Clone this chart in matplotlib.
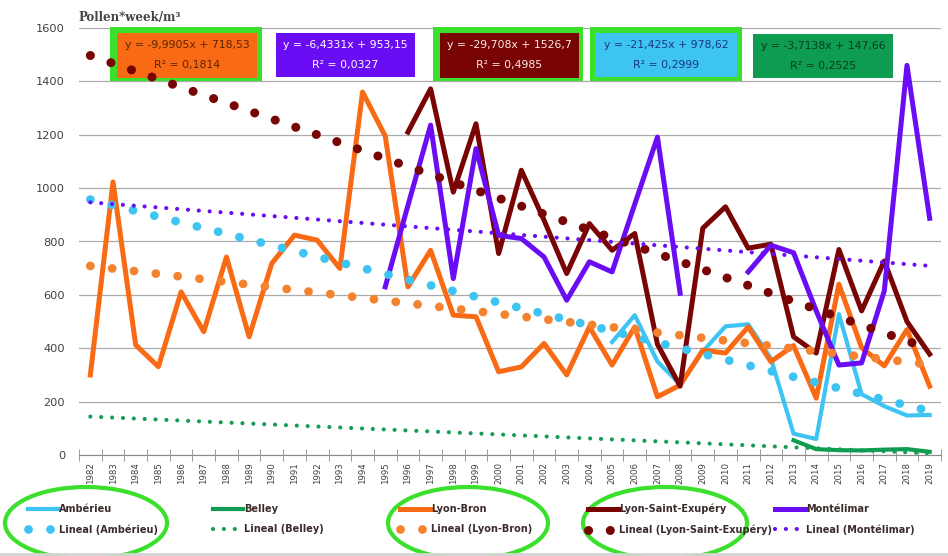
import numpy as np
import matplotlib
matplotlib.use('Agg')
import matplotlib.pyplot as plt
from matplotlib.lines import Line2D
from matplotlib.patches import Ellipse, Rectangle
from matplotlib import font_manager

nan = np.nan

###     Data

years = list(range(1982, 2020))

amberieu = [nan]*23 + [423, 524, 350, 265, 388, 482, 490, 362, 80, 60, 528, 228, 183, 148, 150]
belley = [nan]*31 + [55, 22, 18, 17, 20, 22, 12]
lyon_bron = [300, 1023, 412, 331, 611, 462, 742, 443, 718, 824, 805, 699, 1360, 1195, 630, 767,
             524, 518, 312, 330, 418, 300, 480, 337, 480, 218, 262, 393, 382, 480, 350, 410,
             213, 640, 402, 334, 470, 258]
lyon_se = [nan]*14 + [1210, 1372, 985, 1241, 755, 1067, 880, 680, 867, 767, 830, 415, 258,
                      850, 930, 775, 790, 443, 382, 770, 540, 727, 500, 378]
montelimar = [nan]*13 + [630, 935, 1236, 661, 1148, 823, 811, 742, 580, 724, 686, 940, 1191, 606,
                         nan, nan, 686, 786, 758, 540, 337, 345, 615, 1460, 887]

stations = ['Ambérieu', 'Belley', 'Lyon-Bron', 'Lyon-Saint-Exupéry', 'Montélimar']
series = [amberieu, belley, lyon_bron, lyon_se, montelimar]
colors = ['#3EC4F2', '#0E9C50', '#F96A14', '#780404', '#6A0CF4']

# linear trend lines as printed on the chart (x = 1..38)
slopes = [-21.425, -3.7138, -9.9905, -29.708, -6.4331]
intercepts = [978.62, 147.66, 718.53, 1526.7, 953.15]
r2 = [0.2999, 0.2525, 0.1814, 0.4985, 0.0327]


###     Fonts

names = {f.name for f in font_manager.fontManager.ttflist}
if 'Liberation Sans Narrow' in names:
    NARROW, k = 'Liberation Sans Narrow', 1.0
else:
    NARROW, k = 'DejaVu Sans', 0.78

W, H = 948, 556
def fx(px): return px / W
def fy(py): return 1 - py / H

fig = plt.figure(figsize=(W/100, H/100), dpi=100)
ax = fig.add_axes([fx(79), fy(455), (941-79)/W, (455-28)/H])
ax.patch.set_visible(False)

x = np.arange(len(years))
xi = x + 1

solid_lw = [3.0, 3.0, 3.6, 3.6, 3.6]
trend_style = [(6.3, 2.5), (3.0, 2.6), (6.3, 2.5), (6.5, 2.4), (3.0, 2.6)]
trend_cols = ['#3EC4F2', '#169C55', '#F5822E', '#780404', '#6A0CF4']

solid_handles = []
trend_handles = []
for i in range(5):
    ln, = ax.plot(x, series[i], color=colors[i], lw=solid_lw[i], zorder=3)
    solid_handles.append(ln)
for i in range(5):
    lw, gap = trend_style[i]
    tl, = ax.plot(x, slopes[i]*xi + intercepts[i], color=trend_cols[i], lw=lw,
                  ls=(0, (0.01, gap)), dash_capstyle='round', zorder=4)
    trend_handles.append(tl)

ax.set_xlim(-0.5, 37.5)
ax.set_ylim(0, 1600)
ax.set_yticks(range(0, 1601, 200))
ax.yaxis.grid(True, color='#ABABAB', lw=0.9)
ax.set_axisbelow(True)
for s in ['left', 'right', 'top']:
    ax.spines[s].set_visible(False)
ax.spines['bottom'].set_color('#8C8C8C')

ax.set_xticks(x)
ax.set_xticklabels(years, rotation=90, fontsize=8*k, family=NARROW, color='#404040')
ax.set_xticks(np.arange(-0.5, 38, 1), minor=True)
ax.tick_params(axis='x', which='major', length=0, pad=5)
ax.tick_params(axis='x', which='minor', direction='inout', length=8, color='#8C8C8C')
ax.tick_params(axis='y', length=0, pad=10, labelcolor='#404040')
for t in ax.get_yticklabels():
    t.set_family(NARROW)
    t.set_fontsize(10.5*k)

fig.text(fx(78), fy(18), 'Pollen*week/m³', family='DejaVu Serif', weight='bold',
         fontsize=8.5, color='#454545', va='center', ha='left')

###     Equation boxes

green = '#3BE02C'
boxes = [  # station index, outer box, inner box, text color
    (2, (110, 27, 262, 81), (117, 33, 257, 78), '#5A2500'),
    (4, None, (276, 33, 415, 77), 'white'),
    (3, (433, 27, 583, 81), (440, 33, 579, 78), '#FFE8E8'),
    (0, (590, 27, 742, 81), (595, 33, 737, 77), '#1B3580'),
    (1, None, (753, 34, 893, 78), '#0A3A1E'),
]
for idx, outer, inner, tcol in boxes:
    if outer is not None:
        x0, y0, x1, y1 = outer
        ax.add_patch(Rectangle((fx(x0), fy(y1)), (x1-x0)/W, (y1-y0)/H, fc=green, ec='none',
                               transform=fig.transFigure, clip_on=False, zorder=1))
    x0, y0, x1, y1 = inner
    ax.add_patch(Rectangle((fx(x0), fy(y1)), (x1-x0)/W, (y1-y0)/H, fc=colors[idx], ec='none',
                           transform=fig.transFigure, clip_on=False, zorder=1.1))
    eq = 'y = %sx + %s' % (('%g' % slopes[idx]).replace('.', ','),
                           ('%g' % intercepts[idx]).replace('.', ','))
    rr = 'R² = ' + ('%.4f' % r2[idx]).replace('.', ',')
    cx = fx((x0 + x1) / 2)
    ax.text(cx, fy(y0 + 12), eq, transform=fig.transFigure, ha='center', va='center',
            family=NARROW, fontsize=10*k, color=tcol, zorder=1.2)
    ax.text(cx, fy(y0 + 32), rr, transform=fig.transFigure, ha='center', va='center',
            family=NARROW, fontsize=10*k, color=tcol, zorder=1.2)

###     Legend (one block per station)

leg_x = [28, 213, 400, 588, 775]
for i in range(5):
    fig.legend(handles=[solid_handles[i], trend_handles[i]],
               labels=[stations[i], 'Lineal (%s)' % stations[i]],
               loc='upper left', bbox_to_anchor=(fx(leg_x[i]), fy(504)),
               frameon=False, handlelength=3.1, handletextpad=0.1, borderpad=0,
               borderaxespad=0, labelspacing=1.05,
               prop=dict(family=NARROW, weight='bold', size=9*k), labelcolor='#3B2B2B')

for cx, w in [(86, 162), (468, 160), (665, 164)]:
    fig.add_artist(Ellipse((fx(cx), fy(523)), w/W, 72/H, fill=False, ec=green, lw=3,
                           transform=fig.transFigure))

fig.add_artist(Line2D([0, 1], [fy(554), fy(554)], color='#D4D4D4', lw=2,
                      transform=fig.transFigure))

plt.savefig('out.png', dpi=100)
